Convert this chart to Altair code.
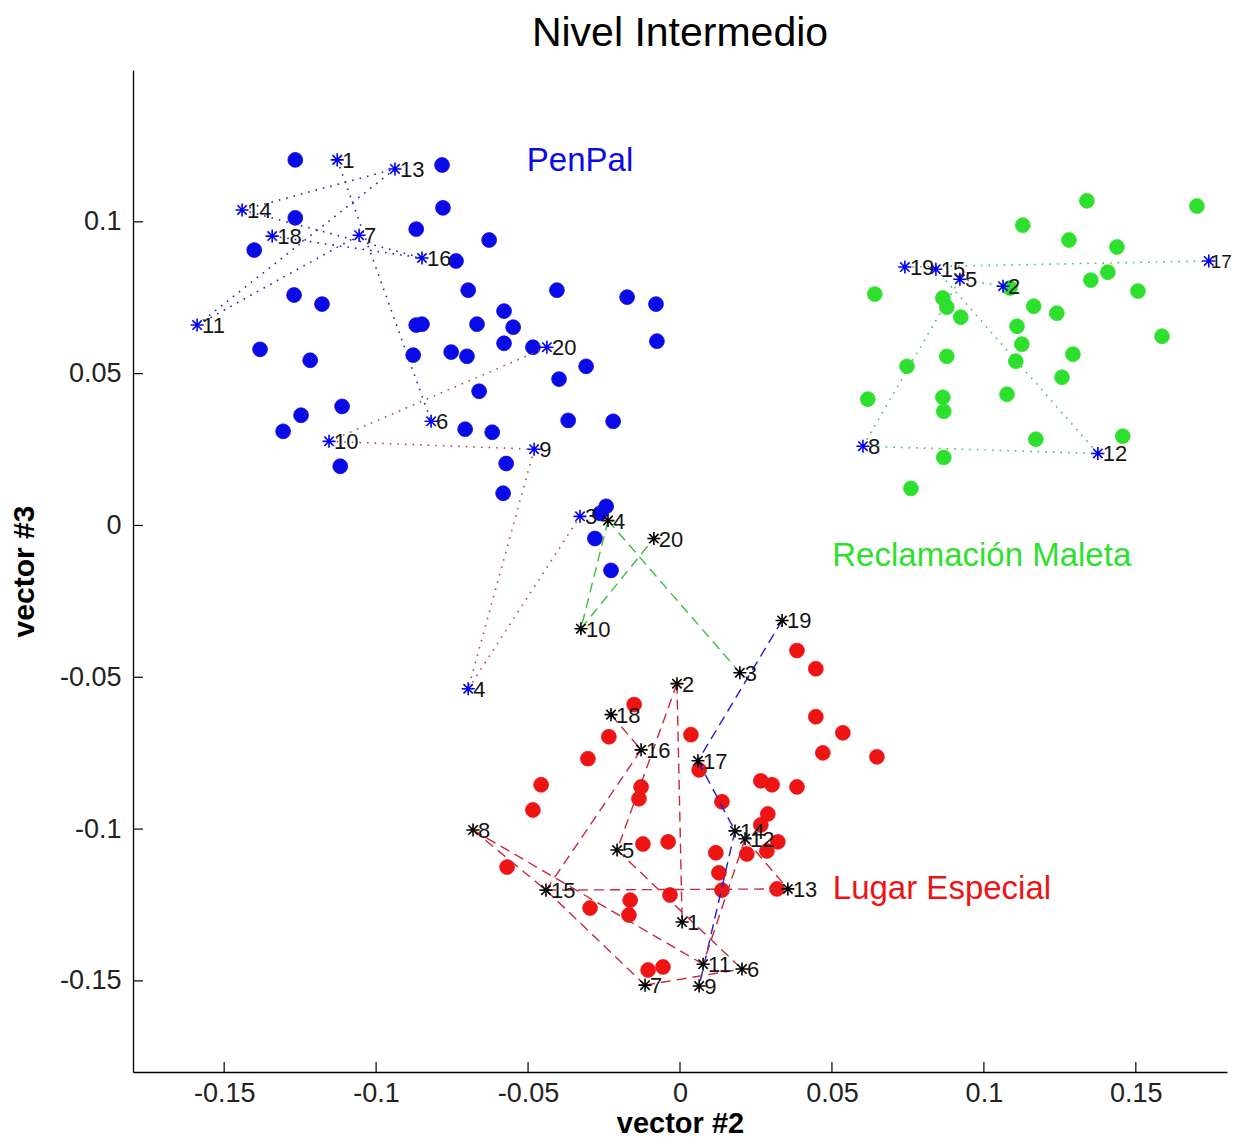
import altair as alt
import pandas as pd

# ---------------- data ----------------
X_TICKS = [-0.15, -0.1, -0.05, 0, 0.05, 0.1, 0.15]
Y_TICKS = [-0.15, -0.1, -0.05, 0, 0.05, 0.1]

penpal_x = [-0.1266, -0.0783, -0.0780, -0.1266, -0.0868, -0.1401, -0.0628, -0.0737, -0.1270, -0.1178,
            -0.0697, -0.0405, -0.0174, -0.0079, -0.0579, -0.0549, -0.0868, -0.0849, -0.0668, -0.1382,
            -0.1217, -0.0878, -0.0753, -0.0701, -0.0579, -0.0484, -0.0076, -0.0309, -0.0398, -0.0661,
            -0.0368, -0.0220, -0.1112, -0.1247, -0.1306, -0.1118, -0.0707, -0.0618, -0.0572, -0.0582,
            -0.0243, -0.0263, -0.0280, -0.0227]
penpal_y = [0.1204, 0.1187, 0.1046, 0.1013, 0.0976, 0.0907, 0.0940, 0.0871, 0.0759, 0.0729,
            0.0775, 0.0775, 0.0752, 0.0729, 0.0706, 0.0653, 0.0660, 0.0663, 0.0663, 0.0580,
            0.0544, 0.0561, 0.0571, 0.0557, 0.0600, 0.0587, 0.0607, 0.0524, 0.0482, 0.0442,
            0.0346, 0.0343, 0.0392, 0.0363, 0.0310, 0.0195, 0.0317, 0.0307, 0.0204, 0.0106,
            0.0063, 0.0040, -0.0043, -0.0148]

reclamo_x = [0.1339, 0.1701, 0.1128, 0.1280, 0.1438, 0.1408, 0.1352, 0.1507, 0.0641, 0.0865,
             0.0878, 0.1164, 0.1240, 0.0924, 0.1109, 0.1125, 0.1586, 0.0878, 0.1293, 0.1105,
             0.0747, 0.1257, 0.0618, 0.0865, 0.0868, 0.1076, 0.1171, 0.1457, 0.0868, 0.0760,
             0.1086]
reclamo_y = [0.1069, 0.1052, 0.0989, 0.0940, 0.0917, 0.0834, 0.0808, 0.0772, 0.0762, 0.0749,
             0.0719, 0.0722, 0.0699, 0.0686, 0.0656, 0.0597, 0.0623, 0.0557, 0.0564, 0.0541,
             0.0524, 0.0488, 0.0416, 0.0422, 0.0376, 0.0432, 0.0284, 0.0294, 0.0224, 0.0122,
             0.0782]

lugar_x = [0.0385, 0.0447, -0.0151, -0.0234, 0.0036, 0.0447, 0.0536, 0.0470, 0.0648, -0.0303,
           -0.0457, -0.0128, -0.0135, 0.0063, 0.0138, 0.0266, 0.0303, 0.0385, -0.0484, 0.0289,
           0.0266, 0.0322, -0.0122, -0.0039, 0.0118, 0.0220, 0.0286, -0.0569, 0.0128, 0.0138,
           0.0319, -0.0033, -0.0164, -0.0168, -0.0296, -0.0105, -0.0056]
lugar_y = [-0.0412, -0.0472, -0.0590, -0.0696, -0.0689, -0.0630, -0.0683, -0.0749, -0.0762, -0.0768,
           -0.0854, -0.0861, -0.0900, -0.0805, -0.0910, -0.0841, -0.0854, -0.0861, -0.0937, -0.0950,
           -0.0986, -0.1042, -0.1049, -0.1042, -0.1078, -0.1082, -0.1072, -0.1125, -0.1144, -0.1201,
           -0.1197, -0.1217, -0.1234, -0.1283, -0.1260, -0.1464, -0.1454]

# test utterances (blue asterisks)
blue_star_labels = ["1", "13", "14", "18", "7", "16", "11", "20", "6", "10",
                    "9", "3", "4", "19", "15", "5", "2", "17", "8", "12"]
blue_star_x = [-0.1128, -0.0938, -0.1441, -0.1342, -0.1056, -0.0849, -0.1589, -0.0438, -0.0819, -0.1155,
               -0.0480, -0.0329, -0.0697, 0.0740, 0.0842, 0.0921, 0.1063, 0.1740, 0.0602, 0.1375]
blue_star_y = [0.1204, 0.1174, 0.1039, 0.0953, 0.0956, 0.0881, 0.0660, 0.0587, 0.0343, 0.0277,
               0.0251, 0.0030, -0.0538, 0.0851, 0.0844, 0.0811, 0.0788, 0.0871, 0.0261, 0.0237]

# test utterances (black asterisks)
black_star_labels = ["4", "20", "10", "3", "19", "2", "18", "16", "17", "8",
                     "14", "12", "5", "15", "13", "1", "11", "6", "7", "9"]
black_star_x = [-0.0237, -0.0086, -0.0326, 0.0197, 0.0336, -0.0010, -0.0227, -0.0128, 0.0059, -0.0681,
                0.0181, 0.0214, -0.0207, -0.0441, 0.0355, 0.0007, 0.0076, 0.0204, -0.0115, 0.0063]
black_star_y = [0.0016, -0.0043, -0.0340, -0.0485, -0.0313, -0.0521, -0.0623, -0.0739, -0.0775, -0.1003,
                -0.1006, -0.1032, -0.1069, -0.1201, -0.1197, -0.1306, -0.1445, -0.1461, -0.1514, -0.1517]

# connections between asterisks
blue_dotted_pairs = [("14", "13"), ("11", "13"), ("11", "7"), ("14", "16"), ("18", "16"), ("1", "6")]
red_dotted_pairs = [("10", "9"), ("10", "20"), ("9", "4"), ("4", "3")]
green_dotted_pairs = [("19", "17"), ("5", "2"), ("8", "12"), ("8", "5"), ("15", "12")]
green_dashed_pairs = [("4", "10"), ("10", "20"), ("4", "3")]
blue_dashed_pairs = [("19", "17"), ("17", "14"), ("14", "9")]
red_dashed_pairs = [("2", "1"), ("2", "5"), ("18", "16"), ("16", "15"), ("8", "15"), ("8", "11"),
                    ("15", "13"), ("15", "7"), ("5", "6"), ("12", "13"), ("7", "6"), ("12", "11")]

class_names = ["PenPal", "Reclamación Maleta", "Lugar Especial"]
class_label_x = [-0.0329, 0.0993, 0.0862]
class_label_y = [0.1200, -0.0099, -0.1197]

# ---------------- styling ----------------
BLUE = "#0a0ae6"
GREEN = "#2ee02e"
RED = "#ee1414"
FONT = "Liberation Sans"
STAR = "M-1,0L1,0M0,-1L0,1M-0.72,-0.72L0.72,0.72M-0.72,0.72L0.72,-0.72"
EDGE = 0.17  # labels of asterisks beyond this x are squeezed to stay inside the page

W, H = 1094, 1002
xs = alt.Scale(domain=[-0.18, 0.18], nice=False, zero=False)
ys = alt.Scale(domain=[-0.18, 0.15], nice=False, zero=False)

x_axis = alt.Axis(values=X_TICKS, title="vector #2", ticks=False, grid=False,
                  labelExpr="'' + datum.value", labelFontSize=27, labelPadding=8,
                  titleFontSize=29, titleFontWeight="bold", titlePadding=3)
y_axis = alt.Axis(values=Y_TICKS, title="vector #3", ticks=False, grid=False,
                  labelExpr="'' + datum.value", labelFontSize=27, labelPadding=12,
                  titleFontSize=30, titleFontWeight="bold", titlePadding=20)


def X(field="x"):
    return alt.X(f"{field}:Q", scale=xs, axis=x_axis)


def Y(field="y"):
    return alt.Y(f"{field}:Q", scale=ys, axis=y_axis)


def dots(xv, yv, color):
    df = pd.DataFrame({"x": xv, "y": yv})
    return alt.Chart(df).mark_circle(size=220, color=color, opacity=1,
                                     stroke=color, strokeWidth=0.8).encode(x=X(), y=Y())


def segs(labels, xv, yv, pairs, color, dash, width):
    pos = {l: (a, b) for l, a, b in zip(labels, xv, yv)}
    rows = [{"x": pos[a][0], "y": pos[a][1], "x2": pos[b][0], "y2": pos[b][1]} for a, b in pairs]
    df = pd.DataFrame(rows)
    return alt.Chart(df).mark_rule(color=color, strokeDash=dash, strokeWidth=width).encode(
        x=X(), y=Y(), x2="x2:Q", y2="y2:Q")


def stars(labels, xv, yv, color):
    df = pd.DataFrame({"x": xv, "y": yv, "lab": labels})
    base = alt.Chart(df)
    pts = base.mark_point(shape=STAR, filled=False, size=170, strokeWidth=1.6,
                          color=color, opacity=1).encode(x=X(), y=Y())
    txt = base.transform_filter(f"datum.x <= {EDGE}").mark_text(
        align="left", baseline="middle", dx=5, dy=1, fontSize=22,
        font=FONT, color="#151515").encode(x=X(), y=Y(), text="lab:N")
    txt_edge = base.transform_filter(f"datum.x > {EDGE}").mark_text(
        align="left", baseline="middle", dx=2, dy=1, fontSize=19,
        font=FONT, color="#151515").encode(x=X(), y=Y(), text="lab:N")
    return [pts, txt, txt_edge]


x_tick_df = pd.DataFrame({"x": X_TICKS})
y_tick_df = pd.DataFrame({"y": Y_TICKS})
x_ticks = alt.Chart(x_tick_df).mark_rule(color="black", strokeWidth=1.2).encode(
    x=X(), y=alt.value(H), y2=alt.value(H - 10))
y_ticks = alt.Chart(y_tick_df).mark_rule(color="black", strokeWidth=1.2).encode(
    y=Y(), x=alt.value(0), x2=alt.value(10))

label_df = pd.DataFrame({"x": class_label_x, "y": class_label_y, "name": class_names,
                         "col": [BLUE, GREEN, RED]})
class_text = alt.Chart(label_df).mark_text(fontSize=33, font=FONT, align="center",
                                           baseline="middle").encode(
    x=X(), y=Y(), text="name:N", color=alt.Color("col:N", scale=None))

layers = [
    x_ticks, y_ticks,
    dots(penpal_x, penpal_y, BLUE),
    dots(reclamo_x, reclamo_y, GREEN),
    dots(lugar_x, lugar_y, RED),
    segs(blue_star_labels, blue_star_x, blue_star_y, blue_dotted_pairs, "#2424b8", [1.6, 6], 1.6),
    segs(blue_star_labels, blue_star_x, blue_star_y, red_dotted_pairs, "#b84a4a", [1.6, 6], 1.6),
    segs(blue_star_labels, blue_star_x, blue_star_y, green_dotted_pairs, "#44c25c", [1.6, 6], 1.6),
    segs(black_star_labels, black_star_x, black_star_y, green_dashed_pairs, "#3cbf3c", [10, 6], 1.4),
    segs(black_star_labels, black_star_x, black_star_y, blue_dashed_pairs, "#1c1cd0", [10, 6], 1.4),
    segs(black_star_labels, black_star_x, black_star_y, red_dashed_pairs, "#c8283c", [10, 6], 1.4),
    *stars(blue_star_labels, blue_star_x, blue_star_y, "#0000f0"),
    *stars(black_star_labels, black_star_x, black_star_y, "black"),
    class_text,
]

chart = alt.layer(*layers).properties(
    width=W, height=H,
    title=alt.TitleParams("Nivel Intermedio", fontSize=41, fontWeight="normal", font=FONT,
                          color="black", anchor="middle", offset=15),
    padding={"left": 125, "top": 62, "right": 5, "bottom": 67},
    autosize=alt.AutoSizeParams(type="none"),
).configure_view(stroke=None).configure_axis(
    domainColor="black", domainWidth=1.3, labelColor="#222222", titleColor="black",
    labelFont=FONT, titleFont=FONT
)

chart.save("out.html", embed_options={"renderer": "svg", "actions": False})
